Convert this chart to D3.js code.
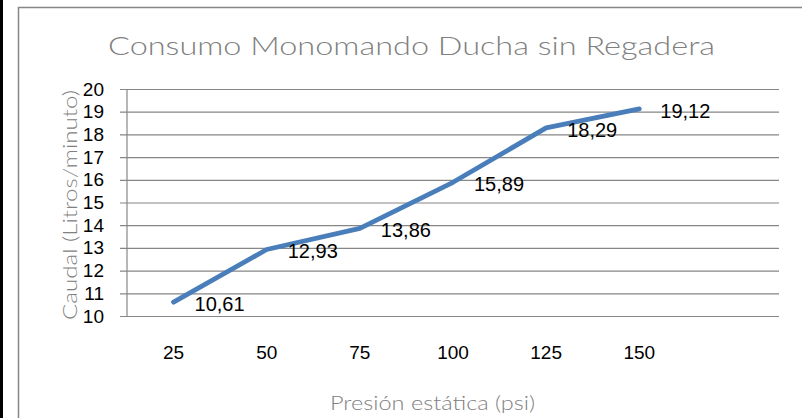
<!DOCTYPE html>
<html>
<head>
<meta charset="utf-8">
<script src="https://cdnjs.cloudflare.com/ajax/libs/d3/7.8.5/d3.min.js"></script>
<style>
  body { margin: 0; background: #fff; }
  svg { display: block; }
</style>
</head>
<body>
<div id="chart"></div>
<script>
// data
var categories = ["25", "50", "75", "100", "125", "150"];
var caudal = [10.61, 12.93, 13.86, 15.89, 18.29, 19.12];
var dataLabels = ["10,61", "12,93", "13,86", "15,89", "18,29", "19,12"];
var yTicks = [10, 11, 12, 13, 14, 15, 16, 17, 18, 19, 20];

var W = 802, H = 418;
var margin = {top: 89, right: 23, bottom: 102, left: 127},
    width = W - margin.left - margin.right,
    height = H - margin.top - margin.bottom;

var svg = d3.select("#chart")
  .append("svg")
    .attr("width", W)
    .attr("height", H);

// black strip and chart frame
svg.append("rect")
  .attr("x", 0).attr("y", 0)
  .attr("width", 3).attr("height", H)
  .attr("fill", "#000");
svg.append("path")
  .attr("d", "M18.5," + H + "V7.5H" + W)
  .attr("fill", "none")
  .attr("stroke", "#868686")
  .attr("stroke-width", 1.5);

// title (wide, light face like Century Gothic)
svg.append("text")
  .attr("x", 108)
  .attr("y", 55)
  .attr("textLength", 607)
  .attr("lengthAdjust", "spacingAndGlyphs")
  .style("font-family", "Lato, 'Open Sans', sans-serif")
  .style("font-weight", 300)
  .style("font-size", "26px")
  .style("fill", "#808080")
  .text("Consumo Monomando Ducha sin Regadera");

var g = svg.append("g")
  .attr("transform", "translate(" + margin.left + "," + margin.top + ")");

// X scale: one blank slot after the last category
var x = d3.scaleBand()
  .domain(categories.concat([" "]))
  .range([0, width]);

var y = d3.scaleLinear()
  .domain([10, 20])
  .range([height, 0]);

// gridlines + y axis
var yAxis = g.append("g")
  .call(d3.axisLeft(y).tickValues(yTicks).tickSize(-(width + 7)).tickSizeOuter(0).tickPadding(16))
  .attr("transform", "translate(-7,0)");
yAxis.select(".domain").remove();
yAxis.selectAll(".tick line")
  .attr("stroke", "#868686")
  .attr("stroke-width", 1.2);
yAxis.selectAll(".tick text")
  .attr("x", -16)
  .style("font-family", "'Liberation Sans', Arial, sans-serif")
  .style("font-size", "19px")
  .style("fill", "#000");

// vertical axis line
g.append("line")
  .attr("x1", 0).attr("x2", 0)
  .attr("y1", 0).attr("y2", height)
  .attr("stroke", "#868686")
  .attr("stroke-width", 1.2);

// x axis labels
var xAxis = g.append("g")
  .attr("transform", "translate(0," + height + ")")
  .call(d3.axisBottom(x).tickValues(categories).tickSize(0).tickPadding(30));
xAxis.select(".domain").remove();
xAxis.selectAll(".tick text")
  .style("font-family", "'Liberation Sans', Arial, sans-serif")
  .style("font-size", "19px")
  .style("fill", "#000");

// line
var line = d3.line()
  .x(function(d, i) { return x(categories[i]) + x.bandwidth() / 2; })
  .y(function(d) { return y(d); });

g.append("path")
  .datum(caudal)
  .attr("d", line)
  .attr("fill", "none")
  .attr("stroke", "#4a7ebb")
  .attr("stroke-width", 4.8)
  .attr("stroke-linecap", "round")
  .attr("stroke-linejoin", "round");

// data labels
g.selectAll(".dlabel")
  .data(caudal)
  .enter()
  .append("text")
    .attr("class", "dlabel")
    .attr("x", function(d, i) { return x(categories[i]) + x.bandwidth() / 2 + 21; })
    .attr("y", function(d) { return y(d) + 9; })
    .style("font-family", "'Liberation Sans', Arial, sans-serif")
    .style("font-size", "20px")
    .style("fill", "#000")
    .text(function(d, i) { return dataLabels[i]; });

// axis titles
svg.append("text")
  .attr("x", 330)
  .attr("y", 410)
  .attr("textLength", 205)
  .attr("lengthAdjust", "spacingAndGlyphs")
  .style("font-family", "Lato, 'Open Sans', sans-serif")
  .style("font-weight", 300)
  .style("font-size", "19px")
  .style("fill", "#808080")
  .text("Presión estática (psi)");

svg.append("text")
  .attr("transform", "translate(77,320)rotate(-90)")
  .attr("textLength", 230)
  .attr("lengthAdjust", "spacingAndGlyphs")
  .style("font-family", "Lato, 'Open Sans', sans-serif")
  .style("font-weight", 300)
  .style("font-size", "19px")
  .style("fill", "#808080")
  .text("Caudal (Litros/minuto)");
</script>
</body>
</html>
